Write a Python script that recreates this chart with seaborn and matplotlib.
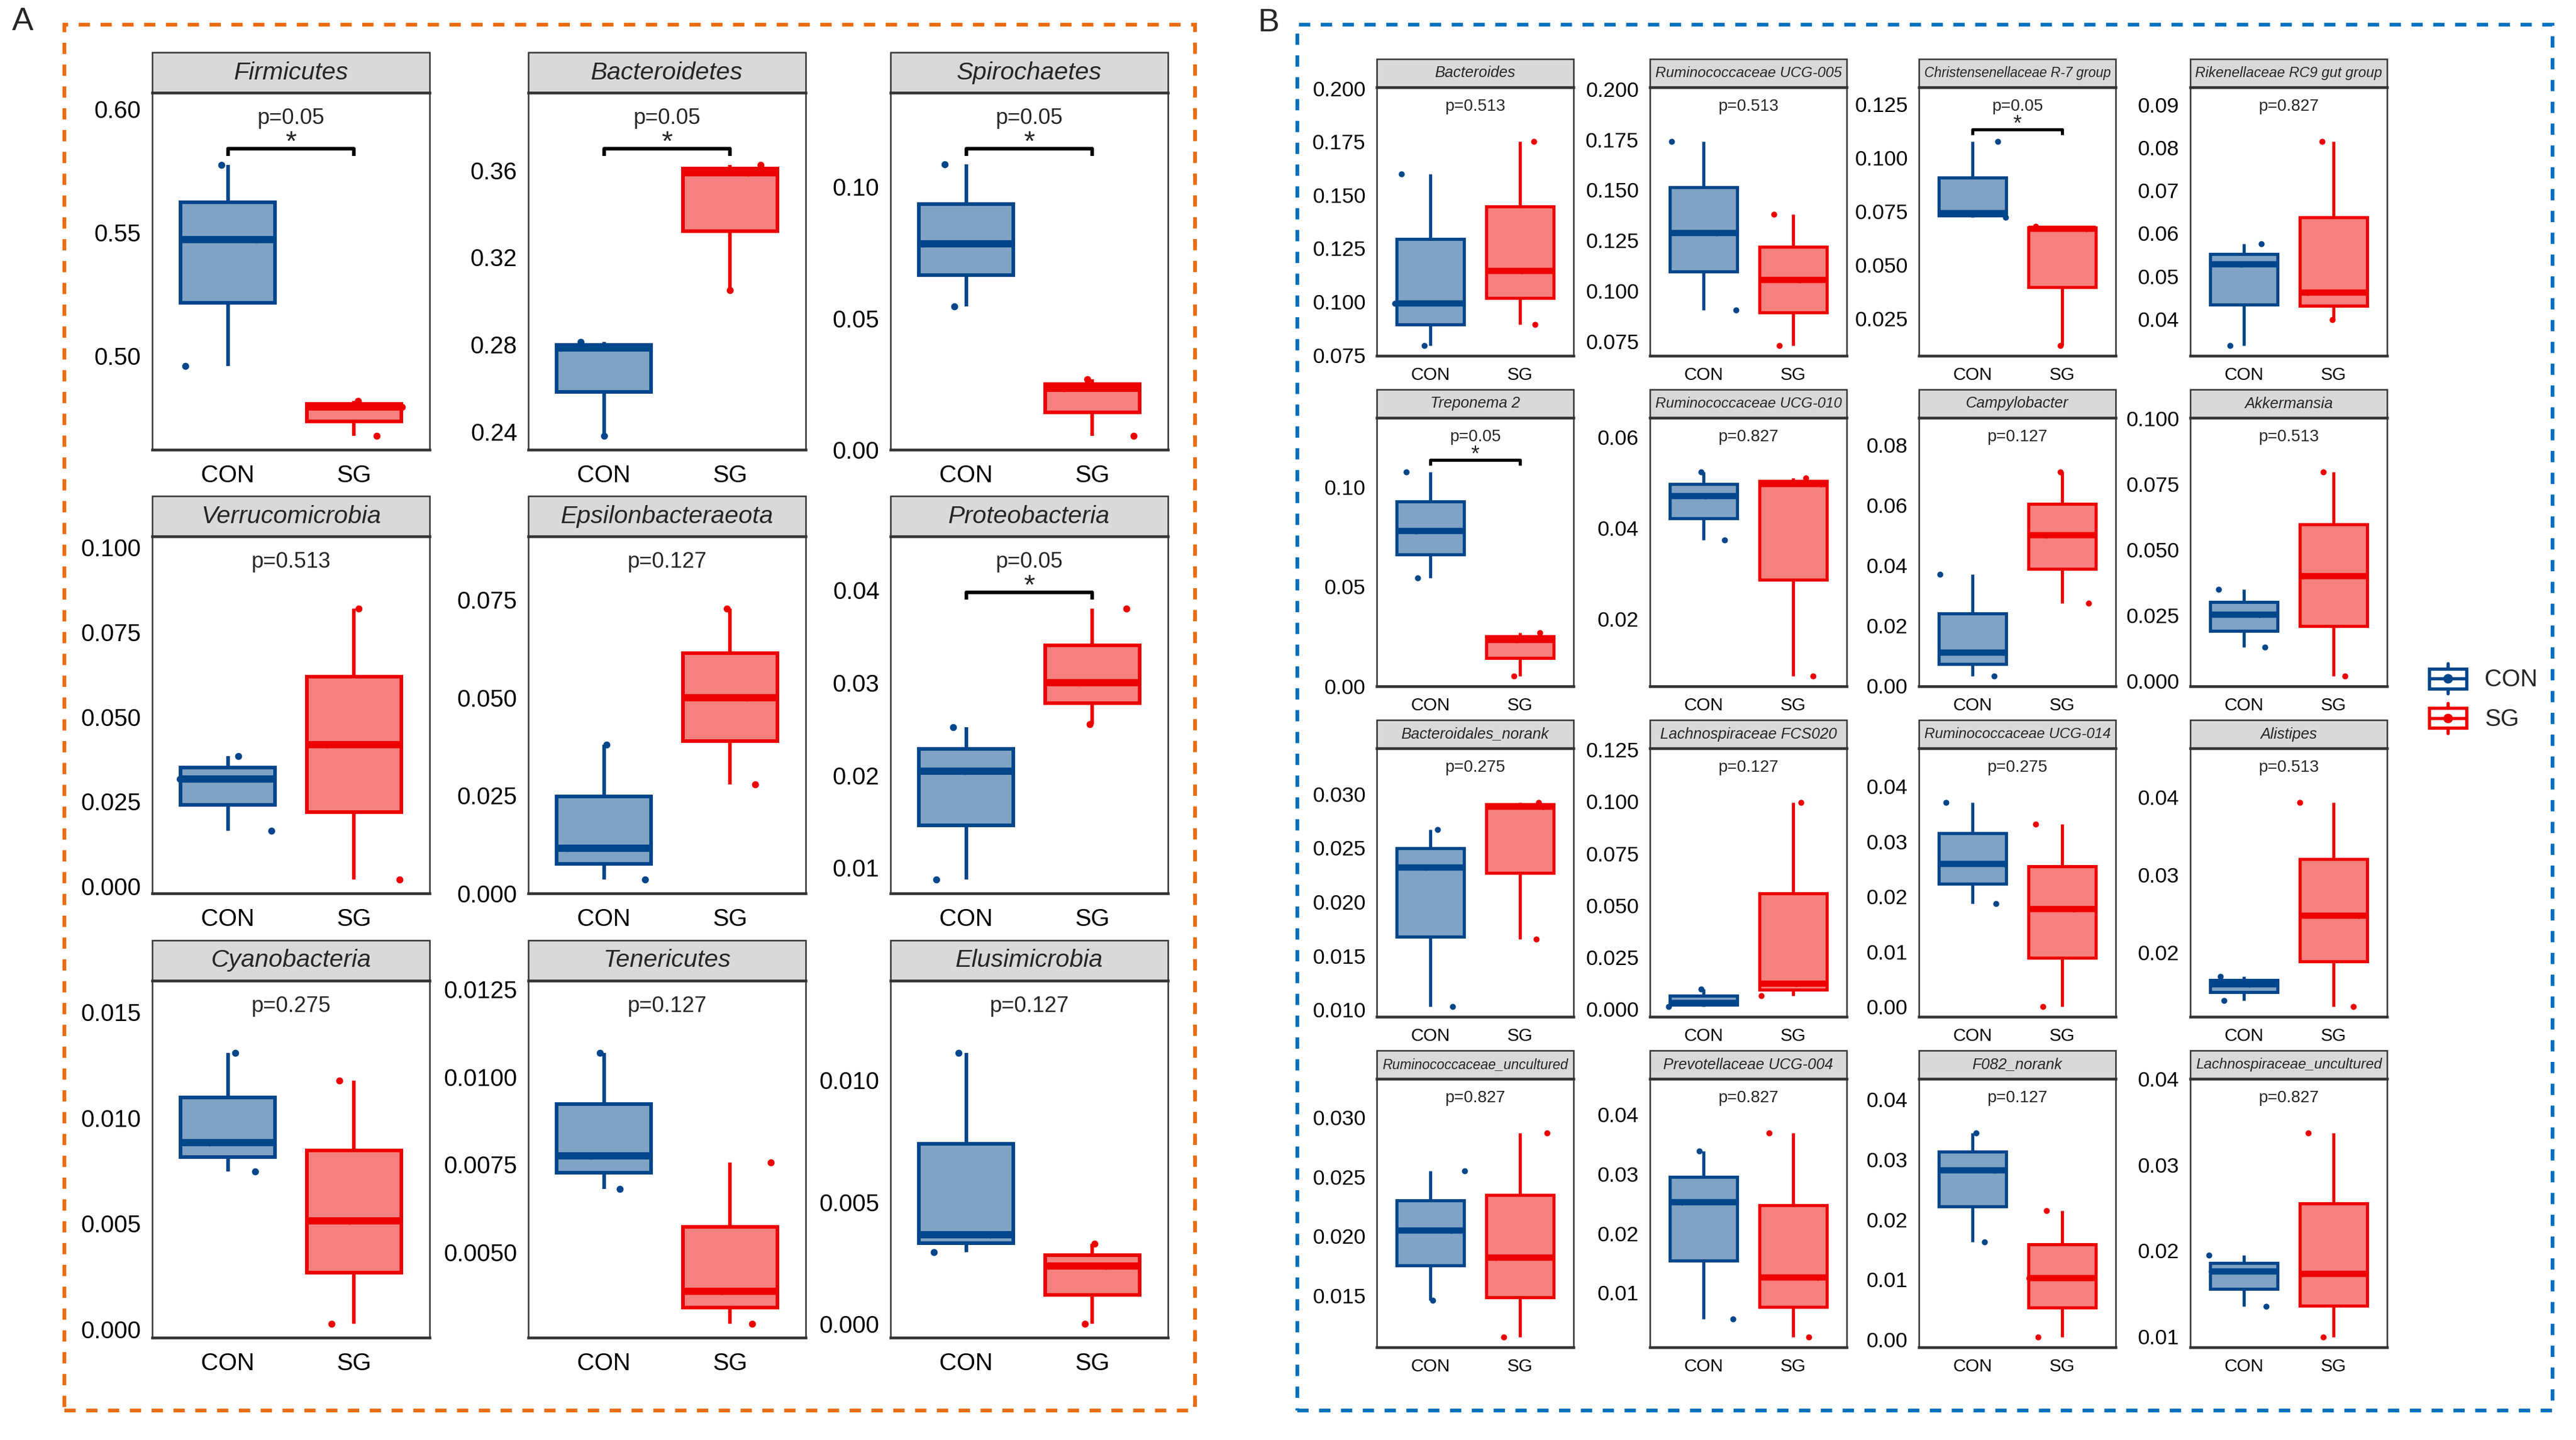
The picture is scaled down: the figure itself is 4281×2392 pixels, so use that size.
import numpy as np
import pandas as pd
import matplotlib
matplotlib.use("Agg")
import matplotlib.pyplot as plt
import seaborn as sns
from matplotlib.patches import Rectangle
from matplotlib.lines import Line2D
from matplotlib.legend_handler import HandlerBase

# ---------------- data (3 samples per group) ----------------
groups = ["CON", "SG"]

phylum_names = ["Firmicutes", "Bacteroidetes", "Spirochaetes",
                "Verrucomicrobia", "Epsilonbacteraeota", "Proteobacteria",
                "Cyanobacteria", "Tenericutes", "Elusimicrobia"]
phylum_con = [[0.496, 0.547, 0.5774], [0.2378, 0.2783, 0.2811], [0.0544, 0.0783, 0.1084],
              [0.0164, 0.0316, 0.0384], [0.0034, 0.0114, 0.0379], [0.0087, 0.0204, 0.0252],
              [0.00746, 0.00882, 0.01308], [0.00679, 0.00774, 0.01069], [0.00295, 0.00366, 0.01112]]
phylum_sg = [[0.4676, 0.4794, 0.4818], [0.305, 0.359, 0.3626], [0.0052, 0.0233, 0.0268],
             [0.0019, 0.0417, 0.082], [0.0278, 0.050, 0.0728], [0.0255, 0.030, 0.038],
             [0.00024, 0.00512, 0.01177], [0.00294, 0.00387, 0.00755], [0.0, 0.00237, 0.00329]]
phylum_p = [0.05, 0.05, 0.05, 0.513, 0.127, 0.05, 0.275, 0.127, 0.127]
phylum_ticks = [["0.50", "0.55", "0.60"], ["0.24", "0.28", "0.32", "0.36"], ["0.00", "0.05", "0.10"],
                ["0.000", "0.025", "0.050", "0.075", "0.100"], ["0.000", "0.025", "0.050", "0.075"],
                ["0.01", "0.02", "0.03", "0.04"], ["0.000", "0.005", "0.010", "0.015"],
                ["0.0050", "0.0075", "0.0100", "0.0125"], ["0.000", "0.005", "0.010"]]

genus_names = ["Bacteroides", "Ruminococcaceae UCG-005", "Christensenellaceae R-7 group",
               "Rikenellaceae RC9 gut group", "Treponema 2", "Ruminococcaceae UCG-010",
               "Campylobacter", "Akkermansia", "Bacteroidales_norank", "Lachnospiraceae FCS020",
               "Ruminococcaceae UCG-014", "Alistipes", "Ruminococcaceae_uncultured",
               "Prevotellaceae UCG-004", "F082_norank", "Lachnospiraceae_uncultured"]
genus_con = [[0.0794, 0.0992, 0.1597], [0.0905, 0.1288, 0.174], [0.0722, 0.0740, 0.1076],
             [0.0338, 0.0528, 0.0575], [0.0544, 0.0779, 0.1075], [0.0373, 0.047, 0.0523],
             [0.0032, 0.0111, 0.0371], [0.0129, 0.0251, 0.0349], [0.0103, 0.0232, 0.0267],
             [0.0012, 0.0030, 0.0097], [0.0187, 0.0259, 0.0371], [0.0138, 0.0159, 0.0169],
             [0.0146, 0.0205, 0.0255], [0.0055, 0.0252, 0.0338], [0.0162, 0.0282, 0.0344],
             [0.01345, 0.01757, 0.01943]]
genus_sg = [[0.0893, 0.1143, 0.1751], [0.0729, 0.1055, 0.138], [0.0123, 0.0667, 0.0680],
            [0.0399, 0.0461, 0.0814], [0.0052, 0.0232, 0.0269], [0.0075, 0.0497, 0.051],
            [0.0275, 0.050, 0.0711], [0.0018, 0.0398, 0.0796], [0.01655, 0.0288, 0.0292],
            [0.0063, 0.0122, 0.0996], [0.0, 0.0177, 0.0332], [0.0130, 0.0247, 0.0393],
            [0.0115, 0.0182, 0.0287], [0.0025, 0.01255, 0.0369], [0.0004, 0.01025, 0.0215],
            [0.0099, 0.01725, 0.0337]]
genus_p = [0.513, 0.513, 0.05, 0.827, 0.05, 0.827, 0.127, 0.513,
           0.275, 0.127, 0.275, 0.513, 0.827, 0.827, 0.127, 0.827]
genus_ticks = [["0.075", "0.100", "0.125", "0.150", "0.175", "0.200"],
               ["0.075", "0.100", "0.125", "0.150", "0.175", "0.200"],
               ["0.025", "0.050", "0.075", "0.100", "0.125"],
               ["0.04", "0.05", "0.06", "0.07", "0.08", "0.09"],
               ["0.00", "0.05", "0.10"], ["0.02", "0.04", "0.06"],
               ["0.00", "0.02", "0.04", "0.06", "0.08"],
               ["0.000", "0.025", "0.050", "0.075", "0.100"],
               ["0.010", "0.015", "0.020", "0.025", "0.030"],
               ["0.000", "0.025", "0.050", "0.075", "0.100", "0.125"],
               ["0.00", "0.01", "0.02", "0.03", "0.04"], ["0.02", "0.03", "0.04"],
               ["0.015", "0.020", "0.025", "0.030"], ["0.01", "0.02", "0.03", "0.04"],
               ["0.00", "0.01", "0.02", "0.03", "0.04"], ["0.01", "0.02", "0.03", "0.04"]]

# ---------------- style ----------------
line_colors = {"CON": "#00468B", "SG": "#ED0000"}
fill_colors = {"CON": "#80A2C5", "SG": "#F68080"}
dark = "#333333"

sns.set_style("white")
plt.rcParams["font.family"] = ["Liberation Sans", "DejaVu Sans"]

W, H, DPI = 4281, 2392, 300
fig = plt.figure(figsize=(W / DPI, H / DPI), dpi=DPI)
renderer = fig.canvas.get_renderer()
np.random.seed(7)


def px_axes(left, top, width, height):
    return fig.add_axes([left / W, 1 - (top + height) / H, width / W, height / H])


def draw_panel(ax, name, con, sg, p, ticks, st):
    df = pd.DataFrame({"group": ["CON"] * len(con) + ["SG"] * len(sg), "value": con + sg})
    for g in groups:
        sub = df[df["group"] == g]
        sns.boxplot(data=sub, x="group", y="value", order=groups, color=fill_colors[g],
                    linecolor=line_colors[g], saturation=1, width=0.75, whis=(0, 100),
                    showcaps=False, showfliers=False, linewidth=st["lw"],
                    medianprops={"linewidth": st["lw"] * 2}, ax=ax)
    for g in groups:
        sub = df[df["group"] == g]
        sns.stripplot(data=sub, x="group", y="value", order=groups, color=line_colors[g],
                      size=st["pt"], jitter=0.4, linewidth=0, ax=ax, zorder=4)

    vals = np.array(con + sg)
    span = vals.max() - vals.min()
    ax.set_ylim(vals.min() - 0.05 * span, vals.max() + 0.265 * span)
    ax.set_xlim(-0.6, 1.6)
    ax.set_yticks([float(t) for t in ticks], labels=ticks)
    ax.set_xlabel("")
    ax.set_ylabel("")
    ax.tick_params(axis="y", length=2.4, width=1.0, color=dark, pad=2.0,
                   labelsize=st["tick"], labelcolor="black")
    ax.tick_params(axis="x", length=0, pad=st["xpad"], labelsize=st["xlab"], labelcolor="black")
    for side in ["left", "right"]:
        ax.spines[side].set_linewidth(0.6)
        ax.spines[side].set_color(dark)
    for side in ["top", "bottom"]:
        ax.spines[side].set_linewidth(1.1)
        ax.spines[side].set_color(dark)

    # p value, bracket and star
    ax.text(0.5, 0.913, f"p={p:g}", transform=ax.transAxes, ha="center", va="baseline",
            fontsize=st["p"])
    if p <= 0.05:
        tr = ax.get_xaxis_transform()
        ax.plot([0, 0, 1, 1], [0.823, 0.843, 0.843, 0.823], color="black", lw=st["lw"],
                transform=tr, solid_capstyle="butt", clip_on=False)
        ax.text(0.5, 0.838, "*", transform=ax.transAxes, ha="center", va="baseline",
                fontsize=st["p"] * 1.3)

    # facet strip
    ph = ax.get_position().height * H
    sh = st["strip_h"] / ph
    ax.add_patch(Rectangle((0, 1), 1, sh, transform=ax.transAxes, clip_on=False,
                           facecolor="#D9D9D9", edgecolor=dark, lw=0.6, zorder=0))
    t = ax.text(0.5, 1 + sh / 2, name, transform=ax.transAxes, ha="center", va="center",
                fontsize=st["strip"], style="italic")
    pw = ax.get_position().width * W
    tw = t.get_window_extent(renderer).width
    if tw > 0.95 * pw:
        t.set_fontsize(st["strip"] * 0.95 * pw / tw)


style_a = dict(lw=1.45, pt=2.8, tick=9.6, xlab=9.6, xpad=5.8, p=8.7, strip=9.9, strip_h=67)
style_b = dict(lw=1.25, pt=2.4, tick=8.5, xlab=7.1, xpad=4.4, p=6.6, strip=6.1, strip_h=47)

a_lefts, a_tops = [253, 878, 1480], [154, 891, 1629]
for i, name in enumerate(phylum_names):
    r, c = divmod(i, 3)
    ax = px_axes(a_lefts[c], a_tops[r], 461, 593)
    draw_panel(ax, name, phylum_con[i], phylum_sg[i], phylum_p[i], phylum_ticks[i], style_a)

b_lefts, b_tops = [2288, 2742, 3189, 3640], [145, 694, 1243, 1792]
for i, name in enumerate(genus_names):
    r, c = divmod(i, 4)
    ax = px_axes(b_lefts[c], b_tops[r], 327, 446)
    draw_panel(ax, name, genus_con[i], genus_sg[i], genus_p[i], genus_ticks[i], style_b)

# dashed frames and panel letters
fig.patches.append(Rectangle((107 / W, 1 - 2343 / H), (1986 - 107) / W, (2343 - 41) / H,
                             transform=fig.transFigure, fill=False, edgecolor="#EC6C0E",
                             lw=1.5, linestyle=(0, (3, 2.8))))
fig.patches.append(Rectangle((2156 / W, 1 - 2343 / H), (4242 - 2156) / W, (2343 - 41) / H,
                             transform=fig.transFigure, fill=False, edgecolor="#0070C0",
                             lw=1.5, linestyle=(0, (3, 2.8))))
fig.text(38 / W, 1 - 36 / H, "A", ha="center", va="center", fontsize=12.8)
fig.text(2108 / W, 1 - 38 / H, "B", ha="center", va="center", fontsize=12.8)


# legend with box-shaped keys
class BoxKeyHandler(HandlerBase):
    def create_artists(self, legend, orig_handle, xdescent, ydescent, width, height,
                       fontsize, trans):
        c = orig_handle.get_color()
        x0, y0 = -xdescent, -ydescent
        xc, yc = x0 + width / 2, y0 + height / 2
        box = Rectangle((x0, y0 + 0.17 * height), width, 0.66 * height, facecolor="white",
                        edgecolor=c, lw=1.3, transform=trans)
        parts = [box,
                 Line2D([xc, xc], [y0 + 0.83 * height, y0 + height], color=c, lw=1.3, transform=trans),
                 Line2D([xc, xc], [y0, y0 + 0.17 * height], color=c, lw=1.3, transform=trans),
                 Line2D([x0, x0 + width], [yc, yc], color=c, lw=1.3, transform=trans),
                 Line2D([xc], [yc], marker="o", ms=2.8, color=c, lw=0, transform=trans)]
        return parts


handles = [Line2D([], [], color=line_colors[g]) for g in groups]
fig.legend(handles, groups, handler_map={Line2D: BoxKeyHandler()}, loc="center left",
           bbox_to_anchor=(4037 / W, 1 - 1160 / H), frameon=False, fontsize=9.5,
           handlelength=1.57, handleheight=1.57, handletextpad=0.75, labelspacing=0.38,
           borderpad=0, borderaxespad=0)

fig.savefig("out.png", dpi=DPI)
